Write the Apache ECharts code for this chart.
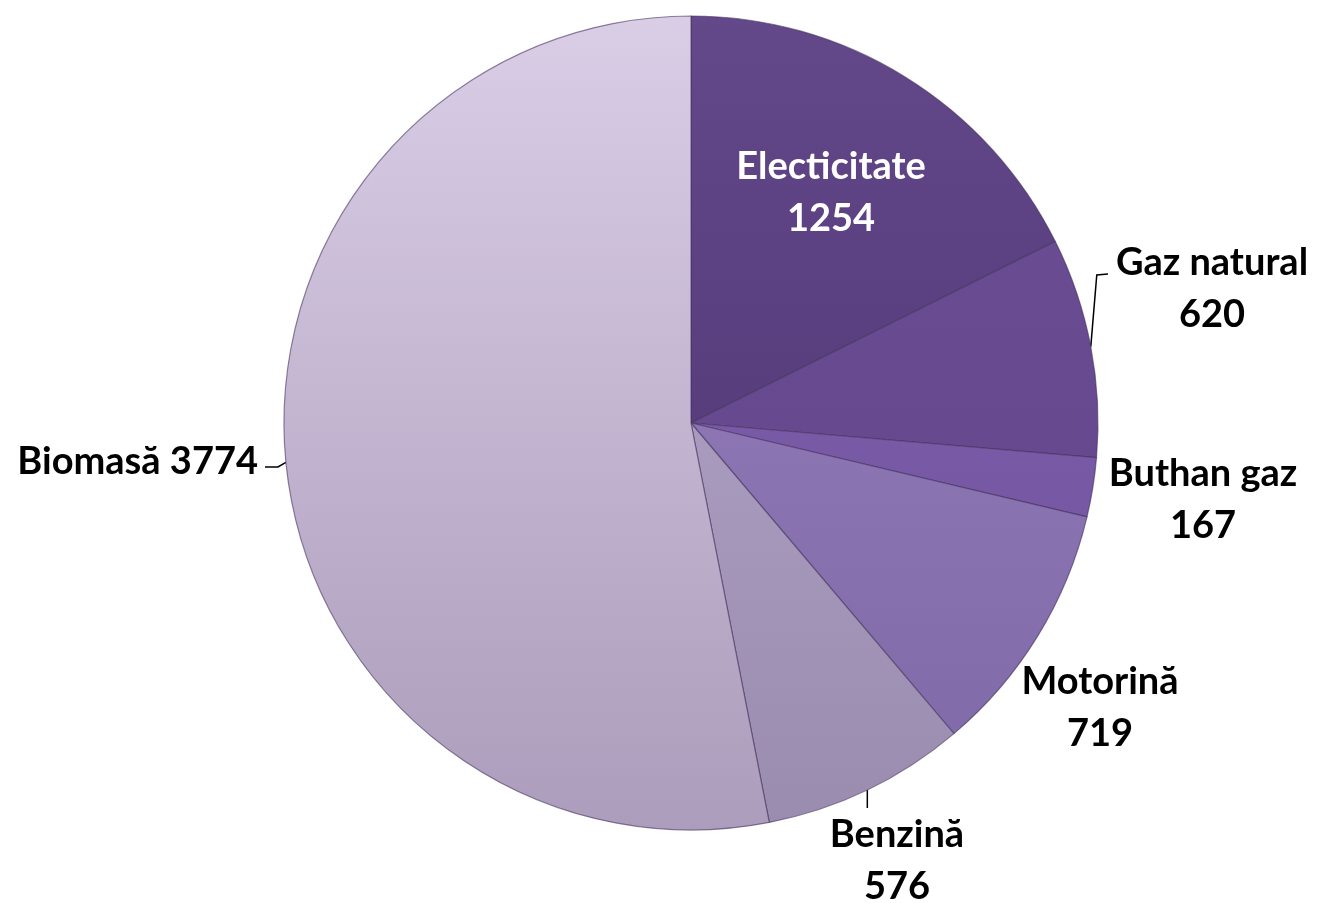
<!DOCTYPE html>
<html>
<head>
<meta charset="utf-8">
<script src="https://cdn.jsdelivr.net/npm/echarts@6/dist/echarts.min.js"></script>
<style>
html,body{margin:0;padding:0;background:#fff;}
#chart{width:1318px;height:903px;}
</style>
</head>
<body>
<div id="chart"></div>
<script>
const categories = ['Electicitate', 'Gaz natural', 'Buthan gaz', 'Motorină', 'Benzină', 'Biomasă'];
const values = [1254, 620, 167, 719, 576, 3774];
const topColors = ['#63488a', '#6d4f97', '#8262b0', '#9882bd', '#b7aacb', '#dacde6'];
const bottomColors = ['#4c336f', '#5f4386', '#6f519d', '#7f68a7', '#9a8caf', '#ab9dbb'];
const labelPos = [
  {x: 831, y: 193, align: 'center'},
  {x: 1212, y: 289, align: 'center'},
  {x: 1203, y: 500, align: 'center'},
  {x: 1100, y: 708, align: 'center'},
  {x: 897, y: 861, align: 'center'},
  {x: 258, y: 462, align: 'right'}
];
const showLine = [false, true, false, false, true, true];

const cx = 691, cy = 423, R = 407;
const total = values.reduce((a, b) => a + b, 0);
// mid angle (clockwise from 12 o'clock) of each slice
const midAngles = [];
let acc = 0;
values.forEach(v => { midAngles.push((acc + v / 2) / total * 2 * Math.PI); acc += v; });
function anchor(i) {
  return [cx + R * Math.sin(midAngles[i]), cy - R * Math.cos(midAngles[i])];
}
function linePoints(i) {
  const a = anchor(i);
  if (i === 1) return [a, [a[0] + 6, 275], [1108, 274]];
  if (i === 4) return [a, [a[0], (a[1] + 808) / 2], [a[0], 808]];
  if (i === 5) return [a, [278, 467], [265, 467]];
  return null;
}

const chart = echarts.init(document.getElementById('chart'));
const data = categories.map((name, i) => ({
  name: name,
  value: values[i],
  itemStyle: {
    color: {
      type: 'linear', x: 0, y: cy - R, x2: 0, y2: cy + R, global: true,
      colorStops: [{offset: 0, color: topColors[i]}, {offset: 1, color: bottomColors[i]}]
    }
  },
  label: i === 0 ? {color: '#ffffff'} : {},
  labelLine: {show: showLine[i]}
}));

chart.setOption({
  backgroundColor: '#ffffff',
  animation: false,
  series: [{
    type: 'pie',
    center: [cx, cy],
    radius: R,
    startAngle: 90,
    clockwise: true,
    data: data,
    itemStyle: {borderColor: 'rgba(70,50,95,0.6)', borderWidth: 1.2},
    label: {
      show: true,
      position: 'outside',
      fontFamily: 'Lato',
      fontWeight: 'bold',
      fontSize: 38,
      lineHeight: 52,
      color: '#000000',
      formatter: p => p.dataIndex === 5 ? p.name + ' ' + p.value : p.name + '\n' + p.value
    },
    labelLine: {show: true, lineStyle: {color: '#000', width: 1.5}, length: 10, length2: 10},
    labelLayout: function (params) {
      const i = params.dataIndex;
      const p = labelPos[i];
      const res = {x: p.x, y: p.y, align: p.align, verticalAlign: 'middle'};
      const lp = linePoints(i);
      if (lp) res.labelLinePoints = lp;
      return res;
    }
  }]
});
</script>
</body>
</html>
